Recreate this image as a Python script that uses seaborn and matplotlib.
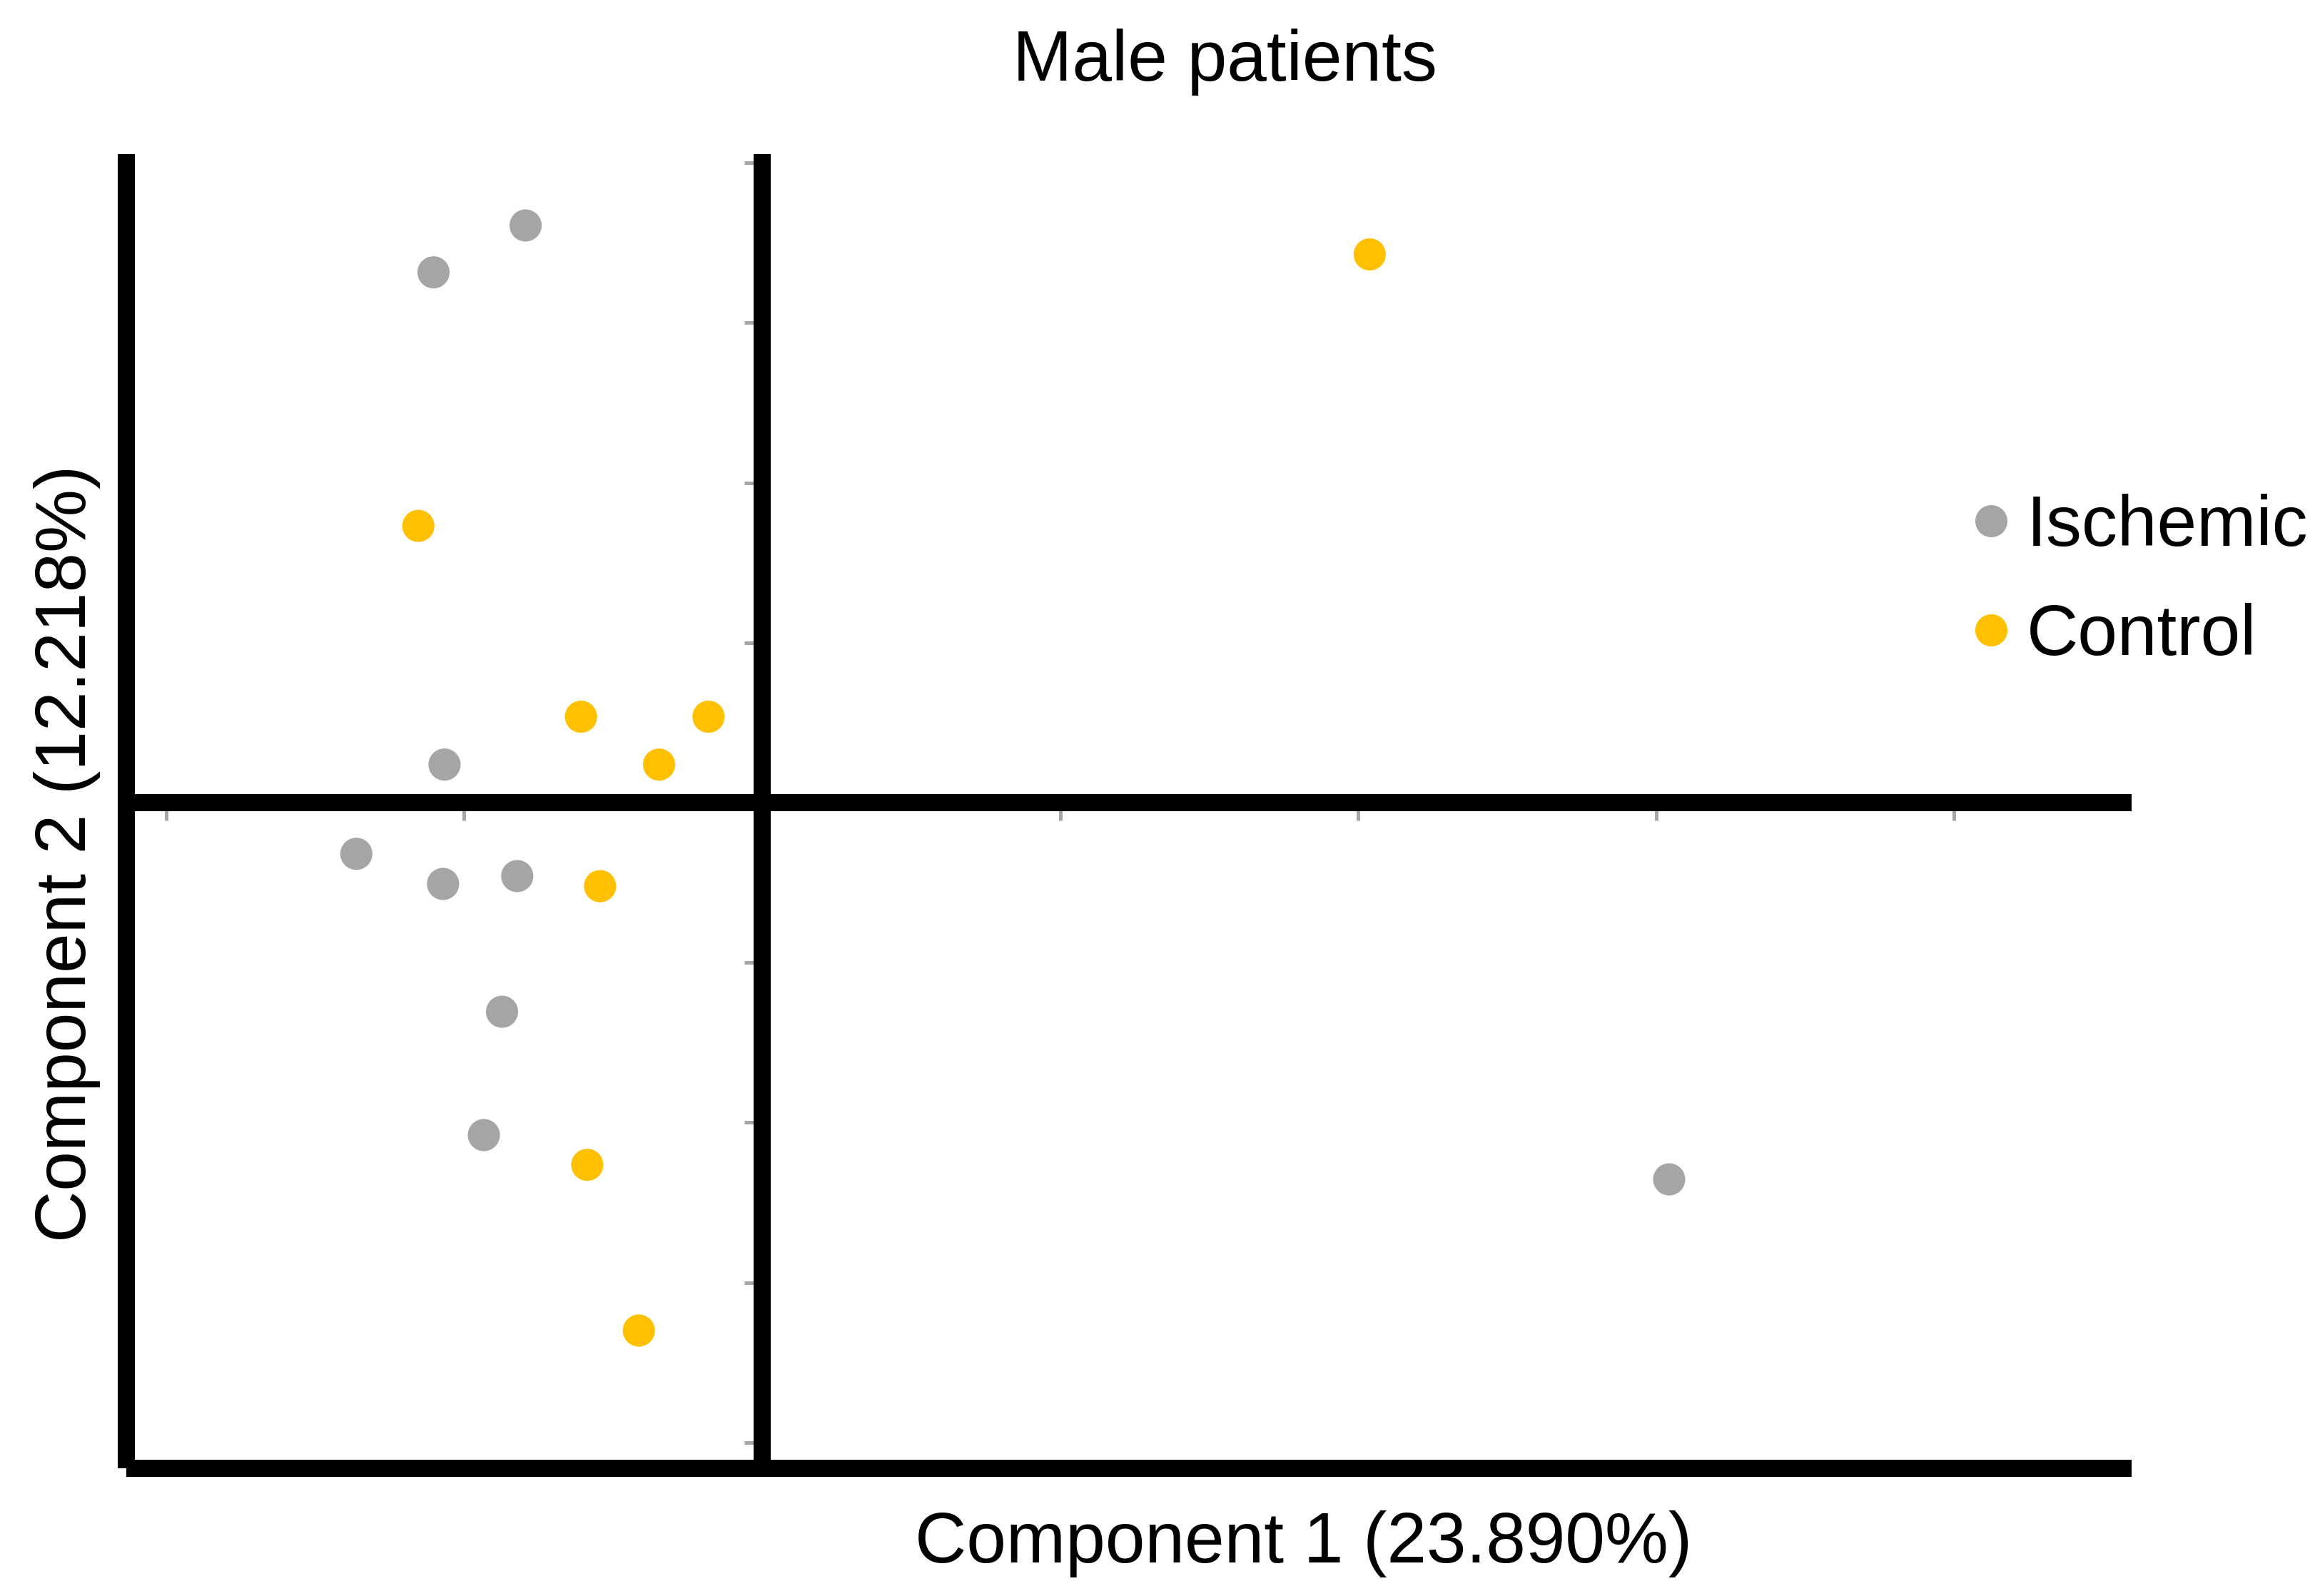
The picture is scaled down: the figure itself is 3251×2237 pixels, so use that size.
import numpy as np
import pandas as pd
import matplotlib
matplotlib.use("Agg")
import matplotlib.pyplot as plt
import seaborn as sns

# PCA scores (one tick = 1 unit)
ischemic_pc1 = [-0.794, -1.103, -1.066, -1.362, -1.071, -0.822, -0.873, -0.934, 3.044]
ischemic_pc2 = [3.608, 3.315, 0.238, -0.320, -0.508, -0.459, -1.307, -2.078, -2.355]
control_pc1 = [2.039, -1.154, -0.608, -0.180, -0.346, -0.544, -0.587, -0.414]
control_pc2 = [3.427, 1.730, 0.537, 0.537, 0.238, -0.522, -2.264, -3.300]

groups = ["Ischemic", "Control"]
colors = {"Ischemic": "#A5A5A5", "Control": "#FFC000"}
x_ticks = [-2, -1, 1, 2, 3, 4]
y_ticks = [-4, -3, -2, -1, 1, 2, 3, 4]

df = pd.DataFrame({
    "pc1": ischemic_pc1 + control_pc1,
    "pc2": ischemic_pc2 + control_pc2,
    "group": ["Ischemic"] * len(ischemic_pc1) + ["Control"] * len(control_pc1),
})

sns.set_style("white")
plt.rcParams["font.family"] = ["Liberation Sans", "DejaVu Sans"]
plt.rcParams["text.color"] = "black"
plt.rcParams["axes.labelcolor"] = "black"

W, H = 3251, 2237
fig = plt.figure(figsize=(W / 300, H / 300), dpi=300)
ax = fig.add_axes([177 / W, 1 - 2058 / H, (2987 - 177) / W, (2058 - 216) / H])

sns.scatterplot(data=df, x="pc1", y="pc2", hue="group", hue_order=groups,
                palette=colors, s=117, linewidth=0, ax=ax, zorder=3)

ax.set_xlim(-2.134, 4.596)
ax.set_ylim(-4.161, 4.054)

lw = 24 * 72 / 300
for side in ["left", "bottom", "right", "top"]:
    ax.spines[side].set_visible(True)
    ax.spines[side].set_color("black")
    ax.spines[side].set_linewidth(lw)
    ax.spines[side].set_capstyle("butt")
# the zero lines are the moved right/top spines, so their ticks sit on them
ax.spines["right"].set_position(("data", 0))
ax.spines["top"].set_position(("data", 0))

ax.set_axisbelow(True)
ax.set_xticks(x_ticks)
ax.set_yticks(y_ticks)
ax.tick_params(left=False, bottom=False, right=True, top=True,
               labelleft=False, labelbottom=False, labelright=False, labeltop=False,
               direction="in", length=25 * 72 / 300, width=5 * 72 / 300, color="#A6A6A6")

ax.set_title("Male patients", fontsize=24, color="black", pad=0,
             x=(1716 - 177) / 2810, y=(2058 - 113) / 1842)
ax.set_xlabel("Component 1 (23.890%)", fontsize=24, va="baseline")
ax.xaxis.set_label_coords((1827 - 177) / 2810, (2058 - 2190) / 1842)
ax.set_ylabel("Component 2 (12.218%)", fontsize=24, va="baseline")
ax.yaxis.set_label_coords((120 - 177) / 2810, (2058 - 1196) / 1842)

sns.move_legend(ax, "upper left", bbox_to_anchor=(2725 / W, 1 - 652 / H),
                bbox_transform=fig.transFigure, frameon=False, title=None,
                fontsize=24, handlelength=0.5, handletextpad=0.25, labelspacing=0.59,
                borderaxespad=0)
for t in ax.get_legend().get_texts():
    t.set_color("black")

fig.savefig("out.png", dpi=300)
